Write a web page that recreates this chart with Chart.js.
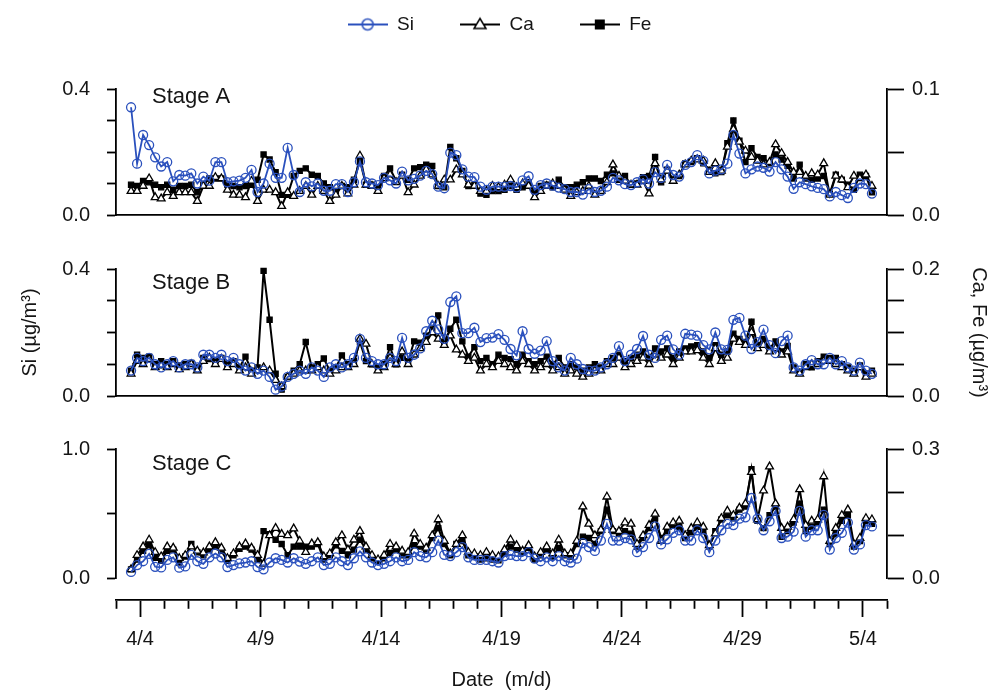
<!DOCTYPE html>
<html>
<head>
<meta charset="utf-8">
<script src="https://cdn.jsdelivr.net/npm/chart.js@4.4.1/dist/chart.umd.min.js"></script>
<style>
  html, body { margin: 0; padding: 0; background: #fff; }
  #wrap { position: relative; width: 1006px; height: 694px; overflow: hidden; background: #fff; }
  #wrap canvas { position: absolute; left: 0; }
</style>
</head>
<body>
<div id="wrap">
  <canvas id="legendChart" width="1006" height="200" style="top:-31px"></canvas>
  <canvas id="chartA" width="1006" height="184" style="top:60px"></canvas>
  <canvas id="chartB" width="1006" height="185" style="top:240px"></canvas>
  <canvas id="chartC" width="1006" height="187" style="top:420px"></canvas>
  <canvas id="chartX" width="1006" height="104" style="top:590px"></canvas>
</div>
<script>
// samples are 6-hourly, first one on 4/3 15:00 (x = day of April)
const sampleStart = 3.625;
const sampleStep = 0.25;

// Stage A  (Si on left axis, Ca and Fe on right axis)
const siA = [0.342,0.163,0.254,0.222,0.183,0.154,0.168,0.107,0.127,0.125,
  0.132,0.100,0.122,0.109,0.168,0.168,0.104,0.107,0.109,0.118,
  0.143,0.073,0.100,0.163,0.118,0.118,0.213,0.127,0.073,0.104,
  0.091,0.100,0.077,0.077,0.098,0.098,0.073,0.104,0.170,0.104,
  0.100,0.095,0.118,0.110,0.100,0.138,0.110,0.115,0.125,0.140,
  0.130,0.090,0.085,0.198,0.190,0.145,0.122,0.120,0.090,0.080,
  0.090,0.090,0.090,0.092,0.088,0.110,0.123,0.080,0.095,0.100,
  0.093,0.087,0.082,0.073,0.073,0.065,0.082,0.073,0.077,0.090,
  0.118,0.110,0.098,0.095,0.104,0.113,0.100,0.136,0.118,0.159,
  0.127,0.122,0.159,0.168,0.190,0.172,0.132,0.141,0.145,0.163,
  0.254,0.195,0.132,0.145,0.154,0.150,0.138,0.168,0.145,0.122,
  0.083,0.104,0.098,0.091,0.086,0.082,0.059,0.073,0.063,0.054,
  0.086,0.100,0.098,0.068];
const caA = [0.019,0.019,0.023,0.029,0.014,0.013,0.018,0.015,0.018,0.018,
  0.018,0.011,0.023,0.023,0.030,0.029,0.020,0.016,0.016,0.014,
  0.027,0.011,0.020,0.020,0.018,0.007,0.018,0.015,0.019,0.023,
  0.016,0.023,0.019,0.011,0.016,0.023,0.017,0.024,0.047,0.024,
  0.023,0.019,0.029,0.032,0.026,0.031,0.018,0.024,0.031,0.036,
  0.032,0.023,0.028,0.028,0.036,0.032,0.024,0.023,0.019,0.019,
  0.023,0.022,0.024,0.028,0.022,0.025,0.023,0.014,0.019,0.023,
  0.025,0.023,0.020,0.015,0.018,0.019,0.023,0.016,0.019,0.026,
  0.040,0.031,0.027,0.024,0.024,0.027,0.017,0.041,0.028,0.035,
  0.027,0.032,0.040,0.043,0.044,0.043,0.034,0.041,0.035,0.054,
  0.068,0.058,0.051,0.046,0.043,0.040,0.042,0.056,0.049,0.042,
  0.034,0.034,0.031,0.033,0.032,0.041,0.016,0.031,0.028,0.022,
  0.031,0.029,0.032,0.023];
const feA = [0.024,0.023,0.027,0.026,0.024,0.022,0.024,0.020,0.023,0.023,
  0.024,0.018,0.024,0.029,0.029,0.029,0.024,0.023,0.022,0.023,
  0.024,0.028,0.048,0.044,0.034,0.016,0.016,0.031,0.035,0.037,
  0.032,0.031,0.025,0.022,0.019,0.023,0.022,0.028,0.043,0.024,
  0.024,0.022,0.031,0.037,0.027,0.032,0.028,0.037,0.038,0.040,
  0.039,0.023,0.022,0.054,0.045,0.035,0.023,0.024,0.017,0.016,
  0.019,0.019,0.020,0.023,0.020,0.022,0.026,0.019,0.023,0.024,
  0.022,0.028,0.022,0.022,0.024,0.026,0.029,0.029,0.027,0.032,
  0.033,0.028,0.031,0.024,0.025,0.030,0.031,0.046,0.026,0.036,
  0.028,0.031,0.041,0.042,0.045,0.041,0.036,0.033,0.034,0.057,
  0.075,0.059,0.042,0.053,0.046,0.045,0.041,0.048,0.044,0.039,
  0.029,0.040,0.029,0.028,0.029,0.031,0.017,0.032,0.028,0.024,
  0.020,0.032,0.031,0.018];

// Stage B
const siB = [0.08,0.12,0.11,0.12,0.10,0.09,0.10,0.11,0.09,0.10,
  0.10,0.09,0.13,0.13,0.12,0.13,0.11,0.12,0.10,0.08,
  0.09,0.07,0.08,0.06,0.02,0.03,0.06,0.07,0.08,0.07,
  0.09,0.08,0.06,0.09,0.10,0.09,0.10,0.12,0.18,0.12,
  0.11,0.10,0.10,0.12,0.11,0.183,0.12,0.13,0.15,0.204,
  0.237,0.21,0.18,0.296,0.314,0.198,0.198,0.215,0.17,0.182,
  0.184,0.195,0.177,0.148,0.128,0.204,0.148,0.133,0.143,0.173,
  0.11,0.09,0.08,0.12,0.10,0.085,0.08,0.08,0.09,0.10,
  0.12,0.157,0.11,0.13,0.148,0.189,0.13,0.12,0.177,0.19,
  0.147,0.13,0.196,0.193,0.19,0.16,0.147,0.20,0.147,0.145,
  0.24,0.246,0.19,0.148,0.17,0.209,0.16,0.135,0.173,0.19,
  0.09,0.08,0.10,0.113,0.10,0.10,0.12,0.10,0.11,0.09,
  0.08,0.105,0.08,0.07];
const caB = [0.035,0.055,0.050,0.058,0.045,0.048,0.045,0.050,0.042,0.045,
  0.050,0.040,0.055,0.060,0.050,0.058,0.045,0.050,0.040,0.045,
  0.035,0.040,0.045,0.040,0.025,0.015,0.030,0.035,0.040,0.040,
  0.040,0.045,0.040,0.035,0.040,0.045,0.045,0.050,0.090,0.082,
  0.050,0.040,0.045,0.060,0.050,0.070,0.050,0.065,0.075,0.085,
  0.100,0.090,0.080,0.095,0.073,0.065,0.055,0.060,0.040,0.050,
  0.045,0.055,0.050,0.045,0.040,0.055,0.050,0.040,0.045,0.050,
  0.040,0.045,0.035,0.040,0.035,0.030,0.035,0.040,0.040,0.050,
  0.050,0.060,0.045,0.050,0.055,0.060,0.050,0.065,0.060,0.065,
  0.050,0.060,0.070,0.070,0.072,0.060,0.050,0.075,0.055,0.060,
  0.090,0.085,0.080,0.100,0.075,0.080,0.070,0.075,0.065,0.070,
  0.040,0.035,0.045,0.050,0.050,0.055,0.055,0.050,0.045,0.040,
  0.035,0.045,0.030,0.035];
const feB = [0.040,0.065,0.060,0.062,0.050,0.055,0.050,0.055,0.048,0.050,
  0.052,0.045,0.060,0.058,0.055,0.060,0.050,0.055,0.045,0.062,
  0.040,0.045,0.197,0.120,0.035,0.010,0.030,0.040,0.050,0.085,
  0.045,0.050,0.059,0.040,0.045,0.064,0.050,0.055,0.085,0.055,
  0.050,0.045,0.050,0.077,0.050,0.060,0.055,0.086,0.084,0.095,
  0.105,0.127,0.085,0.106,0.120,0.086,0.062,0.077,0.055,0.060,
  0.050,0.065,0.060,0.058,0.050,0.065,0.055,0.050,0.055,0.062,
  0.050,0.060,0.045,0.050,0.045,0.040,0.045,0.050,0.045,0.055,
  0.060,0.065,0.055,0.060,0.065,0.070,0.060,0.075,0.070,0.075,
  0.060,0.070,0.075,0.078,0.080,0.070,0.060,0.080,0.065,0.070,
  0.098,0.090,0.085,0.117,0.080,0.090,0.075,0.086,0.070,0.079,
  0.045,0.038,0.050,0.045,0.055,0.062,0.060,0.060,0.050,0.045,
  0.040,0.048,0.035,0.040];

// Stage C
const siC = [0.047,0.10,0.13,0.187,0.087,0.082,0.14,0.16,0.08,0.09,
  0.18,0.13,0.11,0.16,0.19,0.16,0.085,0.10,0.113,0.12,
  0.13,0.085,0.067,0.12,0.153,0.14,0.12,0.153,0.127,0.11,
  0.13,0.16,0.10,0.11,0.16,0.13,0.10,0.153,0.207,0.16,
  0.12,0.10,0.11,0.13,0.16,0.13,0.14,0.20,0.17,0.16,
  0.20,0.29,0.18,0.17,0.20,0.24,0.16,0.14,0.14,0.14,
  0.13,0.12,0.17,0.18,0.17,0.17,0.20,0.15,0.13,0.16,
  0.13,0.17,0.13,0.12,0.15,0.27,0.24,0.21,0.29,0.42,
  0.29,0.29,0.31,0.30,0.20,0.24,0.31,0.40,0.26,0.30,
  0.35,0.37,0.29,0.29,0.37,0.31,0.20,0.29,0.37,0.42,
  0.41,0.46,0.47,0.62,0.46,0.37,0.44,0.52,0.31,0.32,
  0.36,0.52,0.32,0.37,0.37,0.49,0.22,0.31,0.35,0.43,
  0.22,0.26,0.41,0.40];
const caC = [0.020,0.053,0.073,0.089,0.060,0.050,0.073,0.070,0.046,0.053,
  0.073,0.063,0.059,0.073,0.083,0.070,0.046,0.057,0.073,0.080,
  0.070,0.053,0.033,0.099,0.116,0.102,0.099,0.115,0.086,0.060,
  0.080,0.083,0.050,0.057,0.083,0.099,0.066,0.089,0.109,0.073,
  0.053,0.043,0.053,0.079,0.073,0.063,0.060,0.103,0.079,0.070,
  0.099,0.136,0.086,0.057,0.079,0.099,0.060,0.057,0.053,0.060,
  0.053,0.050,0.066,0.089,0.076,0.063,0.076,0.050,0.060,0.073,
  0.057,0.089,0.057,0.057,0.086,0.166,0.126,0.099,0.112,0.189,
  0.112,0.109,0.129,0.126,0.079,0.099,0.123,0.149,0.086,0.119,
  0.129,0.133,0.099,0.116,0.129,0.119,0.076,0.103,0.139,0.156,
  0.146,0.163,0.173,0.246,0.136,0.203,0.259,0.173,0.116,0.119,
  0.136,0.206,0.123,0.133,0.136,0.236,0.086,0.116,0.146,0.159,
  0.079,0.093,0.139,0.136];
const feC = [0.020,0.043,0.063,0.076,0.047,0.040,0.063,0.066,0.036,0.050,
  0.079,0.060,0.053,0.066,0.073,0.063,0.040,0.053,0.068,0.073,
  0.066,0.043,0.109,0.102,0.089,0.079,0.053,0.073,0.073,0.073,
  0.073,0.079,0.043,0.053,0.076,0.063,0.053,0.066,0.089,0.066,
  0.046,0.040,0.046,0.058,0.066,0.053,0.053,0.076,0.073,0.063,
  0.093,0.116,0.079,0.053,0.079,0.086,0.053,0.050,0.043,0.046,
  0.043,0.041,0.057,0.073,0.066,0.060,0.070,0.043,0.053,0.066,
  0.050,0.070,0.053,0.050,0.079,0.096,0.093,0.079,0.109,0.159,
  0.109,0.102,0.109,0.103,0.073,0.093,0.116,0.139,0.093,0.109,
  0.123,0.119,0.093,0.106,0.119,0.109,0.073,0.109,0.136,0.146,
  0.139,0.159,0.166,0.253,0.133,0.116,0.146,0.166,0.096,0.109,
  0.129,0.173,0.109,0.119,0.129,0.159,0.079,0.103,0.133,0.146,
  0.073,0.086,0.133,0.126];

// axis ticks and their labels
const siTicksA = [0, 0.1, 0.2, 0.3, 0.4], siLabelsA = ['0.0', '', '', '', '0.4'];
const cfTicksA = [0, 0.05, 0.1], cfLabelsA = ['0.0', '', '0.1'];
const siTicksB = [0, 0.1, 0.2, 0.3, 0.4], siLabelsB = ['0.0', '', '', '', '0.4'];
const cfTicksB = [0, 0.05, 0.1, 0.15, 0.2], cfLabelsB = ['0.0', '', '', '', '0.2'];
const siTicksC = [0, 0.5, 1.0], siLabelsC = ['0.0', '', '1.0'];
const cfTicksC = [0, 0.1, 0.2, 0.3], cfLabelsC = ['0.0', '', '', '0.3'];
const majorDays = [4, 9, 14, 19, 24, 29, 34];
const majorLabels = ['4/4', '4/9', '4/14', '4/19', '4/24', '4/29', '5/4'];

const BLUE = '#2a50bd';
const INK = '#151515';
const FONT = '"Liberation Sans", Arial, Helvetica, sans-serif';
const AXIS_W = 1.8;

function toPoints(vals) {
  return vals.map((v, i) => ({ x: sampleStart + i * sampleStep, y: v }));
}

function series(label, vals, axis, color, style, radius, fill, width) {
  return {
    label: label,
    data: toPoints(vals),
    yAxisID: axis,
    borderColor: color,
    borderWidth: width,
    pointStyle: style,
    pointRadius: radius,
    pointBorderWidth: 1.3,
    pointBorderColor: color,
    pointBackgroundColor: fill,
    tension: 0,
    clip: 10,
  };
}

// small picture for the legend: line with the marker on it
function legendMark(kind, color) {
  const c = document.createElement('canvas');
  c.width = 40; c.height = 20;
  const g = c.getContext('2d');
  g.strokeStyle = color; g.fillStyle = color; g.lineWidth = 1.8;
  g.beginPath(); g.moveTo(0, 10); g.lineTo(40, 10); g.stroke();
  g.lineWidth = 1.5;
  if (kind === 'circle') {
    g.beginPath(); g.arc(20, 10, 5.5, 0, Math.PI * 2); g.stroke();
  } else if (kind === 'triangle') {
    g.fillStyle = '#fff';
    g.beginPath(); g.moveTo(20, 4); g.lineTo(26, 14); g.lineTo(14, 14); g.closePath();
    g.fill(); g.stroke();
  } else {
    g.fillRect(15, 5, 10, 10);
  }
  return c;
}

const stageLabel = {
  id: 'stageLabel',
  afterDraw(chart, args, opts) {
    const { ctx, chartArea } = chart;
    ctx.save();
    ctx.font = '22px ' + FONT;
    ctx.fillStyle = INK;
    ctx.textBaseline = 'alphabetic';
    ctx.fillText(opts.text, chartArea.left + 36, chartArea.top + opts.dy);
    ctx.restore();
  }
};

function yAxis(side, max, ticks, labels, title) {
  const left = side === 'left';
  return {
    position: side,
    min: 0, max: max,
    afterFit: s => { s.width = left ? 116 : 119; },
    afterBuildTicks: s => { s.ticks = ticks.map(v => ({ value: v })); },
    ticks: {
      autoSkip: false,
      callback: (v, i) => labels[i],
      font: { family: FONT, size: 20 },
      color: INK,
      padding: left ? 17 : 8,
    },
    grid: { drawOnChartArea: false, tickLength: left ? 9 : 17, tickWidth: AXIS_W, tickColor: '#000' },
    border: { color: '#000', width: AXIS_W },
    title: title ? {
      display: true, text: title, color: INK,
      font: { family: FONT, size: 20 },
      padding: { top: left ? 18 : 15, bottom: 0 },
    } : { display: false },
  };
}

function panel(id, si, ca, fe, opt) {
  return new Chart(document.getElementById(id), {
    type: 'line',
    data: {
      datasets: [
        series('Si', si, 'yL', BLUE, 'circle', 4.5, 'rgba(255,255,255,0)', 1.8),
        series('Ca', ca, 'yR', '#000', 'triangle', 4.5, '#fff', 2),
        series('Fe', fe, 'yR', '#000', 'rect', 3.6, '#000', 2),
      ]
    },
    options: {
      responsive: false,
      animation: false,
      devicePixelRatio: 1,
      layout: { padding: { top: opt.padTop, bottom: 14, left: 0, right: 0 } },
      plugins: {
        legend: { display: false },
        tooltip: { enabled: false },
        stageLabel: { text: opt.stage, dy: opt.dy },
      },
      scales: {
        x: {
          type: 'linear', min: 3, max: 35,
          display: opt.bottomLine,
          ticks: { display: false },
          grid: { drawOnChartArea: false, drawTicks: false },
          border: { color: '#000', width: AXIS_W },
        },
        yL: yAxis('left', opt.siMax, opt.siTicks, opt.siLabels, opt.leftTitle),
        yR: yAxis('right', opt.cfMax, opt.cfTicks, opt.cfLabels, opt.rightTitle),
      }
    },
    plugins: [stageLabel]
  });
}

// legend (its own canvas, placed above stage A)
new Chart(document.getElementById('legendChart'), {
  type: 'line',
  data: { datasets: [] },
  options: {
    responsive: false,
    animation: false,
    devicePixelRatio: 1,
    layout: { padding: { left: 0, right: 7, top: 0, bottom: 0 } },
    scales: { x: { display: false }, y: { display: false } },
    plugins: {
      tooltip: { enabled: false },
      legend: {
        display: true,
        position: 'top',
        labels: {
          usePointStyle: true,
          pointStyleWidth: 40,
          padding: 46,
          color: INK,
          font: { family: FONT, size: 19 },
          generateLabels: () => [
            { text: 'Si', pointStyle: legendMark('circle', BLUE), fillStyle: BLUE, strokeStyle: BLUE, lineWidth: 0, hidden: false, fontColor: INK },
            { text: 'Ca', pointStyle: legendMark('triangle', '#000'), fillStyle: '#000', strokeStyle: '#000', lineWidth: 0, hidden: false, fontColor: INK },
            { text: 'Fe', pointStyle: legendMark('rect', '#000'), fillStyle: '#000', strokeStyle: '#000', lineWidth: 0, hidden: false, fontColor: INK },
          ]
        }
      }
    }
  }
});

panel('chartA', siA, caA, feA, {
  stage: 'Stage A', dy: 14, padTop: 23, bottomLine: true,
  siMax: 0.4, siTicks: siTicksA, siLabels: siLabelsA,
  cfMax: 0.1, cfTicks: cfTicksA, cfLabels: cfLabelsA,
});
panel('chartB', siB, caB, feB, {
  stage: 'Stage B', dy: 20, padTop: 22, bottomLine: true,
  siMax: 0.4, siTicks: siTicksB, siLabels: siLabelsB,
  cfMax: 0.2, cfTicks: cfTicksB, cfLabels: cfLabelsB,
  leftTitle: 'Si (µg/m³)', rightTitle: 'Ca, Fe (µg/m³)',
});
panel('chartC', siC, caC, feC, {
  stage: 'Stage C', dy: 21, padTop: 23, bottomLine: false,
  siMax: 1.0, siTicks: siTicksC, siLabels: siLabelsC,
  cfMax: 0.3, cfTicks: cfTicksC, cfLabels: cfLabelsC,
});

// shared date axis, a tick each day, long ticks every 5 days
new Chart(document.getElementById('chartX'), {
  type: 'line',
  data: { datasets: [] },
  options: {
    responsive: false,
    animation: false,
    devicePixelRatio: 1,
    layout: { padding: { left: 116, right: 119, top: 0, bottom: 0 } },
    plugins: { legend: { display: false }, tooltip: { enabled: false } },
    scales: {
      y: { display: false },
      x: {
        type: 'linear', position: 'bottom', min: 3, max: 35,
        afterFit: s => { s.height = 94; },
        afterBuildTicks: s => {
          const t = [];
          for (let d = 3; d <= 35; d++) t.push({ value: d });
          s.ticks = t;
        },
        ticks: {
          autoSkip: false, maxRotation: 0,
          callback: v => { const k = majorDays.indexOf(v); return k >= 0 ? majorLabels[k] : ''; },
          font: { family: FONT, size: 20 },
          color: INK,
          padding: 10,
        },
        grid: {
          drawOnChartArea: false, tickLength: 17, tickWidth: AXIS_W, tickColor: '#000',
          tickBorderDash: c => (c.tick && majorDays.includes(c.tick.value)) ? [] : [8, 40],
        },
        border: { color: '#000', width: AXIS_W },
        title: {
          display: true, text: 'Date  (m/d)', color: INK,
          font: { family: FONT, size: 20 },
          padding: { top: 0, bottom: 2 },
        }
      }
    }
  }
});
</script>
</body>
</html>
